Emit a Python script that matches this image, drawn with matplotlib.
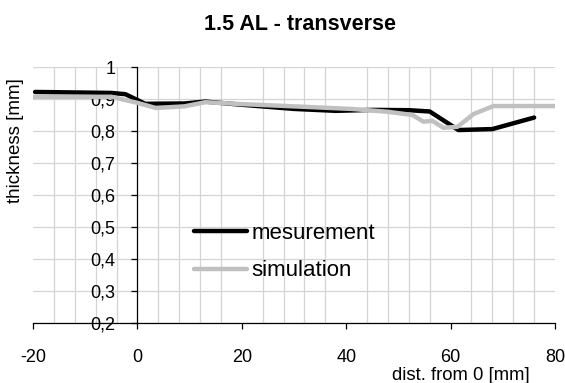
import matplotlib
matplotlib.use("Agg")
import matplotlib.pyplot as plt
from matplotlib.ticker import MultipleLocator, FuncFormatter

# measured thickness profile across the part
meas_x = [-19.6, -5, -2.3, 1.5, 9, 13, 20, 30, 38, 45, 52, 56, 61.5, 68, 76]
meas_y = [0.922, 0.919, 0.915, 0.885, 0.886, 0.892, 0.882, 0.869, 0.863, 0.866, 0.865, 0.861, 0.803, 0.806, 0.842]

# simulated thickness profile
sim_x = [-20, -5, 0, 3.5, 9, 13, 20, 30, 41, 48, 52.7, 54.8, 56.5, 58.6, 61.3, 64.4, 68.2, 80]
sim_y = [0.907, 0.907, 0.888, 0.872, 0.877, 0.890, 0.884, 0.877, 0.869, 0.860, 0.850, 0.829, 0.832, 0.810, 0.813, 0.853, 0.878, 0.878]

plt.rcParams["font.family"] = ["Liberation Sans", "DejaVu Sans"]
plt.rcParams["axes.unicode_minus"] = False

fig = plt.figure(figsize=(5.65, 3.83), dpi=100)
ax = fig.add_axes([33 / 565, 60 / 383, 522 / 565, 256 / 383])

l1, = ax.plot(meas_x, meas_y, color="black", lw=3.2, solid_capstyle="round",
              solid_joinstyle="round", label="mesurement", zorder=3)
l2, = ax.plot(sim_x, sim_y, color="#c0c0c0", lw=3.2, solid_capstyle="round",
              solid_joinstyle="round", label="simulation", zorder=4)

ax.set_xlim(-20, 80)
ax.set_ylim(0.2, 1.0)

ax.xaxis.set_major_locator(MultipleLocator(20))
ax.xaxis.set_minor_locator(MultipleLocator(4))
ax.yaxis.set_major_locator(MultipleLocator(0.1))


def comma_fmt(v, pos):
    return ("%g" % round(v, 2)).replace(".", ",")


ax.yaxis.set_major_formatter(FuncFormatter(comma_fmt))

ax.grid(True, which="minor", axis="x", color="#d4d4d4", lw=0.9)
ax.grid(True, which="major", axis="y", color="#d4d4d4", lw=0.9)
ax.set_axisbelow(True)

for s in ("top", "right"):
    ax.spines[s].set_visible(False)
ax.spines["left"].set_position(("data", 0))
ax.spines["left"].set_linewidth(0.9)
ax.spines["bottom"].set_linewidth(0.9)

ax.tick_params(axis="x", which="major", direction="out", length=4, width=0.9,
               pad=15, labelsize=13)
ax.tick_params(axis="x", which="minor", length=0)
ax.tick_params(axis="y", direction="out", length=4, width=0.9, pad=12, labelsize=13)

fig.text(300 / 565, 1 - 25 / 383, "1.5 AL - transverse", ha="center", va="center",
         fontsize=15.5, fontweight="bold")
fig.text(16 / 565, 1 - 140.5 / 383, "thickness [mm]", rotation=90, ha="center",
         va="center", fontsize=13.5)
fig.text(461 / 565, 1 - 375 / 383, "dist. from 0 [mm]", ha="center", va="center",
         fontsize=13.3)

ax.legend(handles=[l1, l2], loc="center left", bbox_to_anchor=(194 / 565, 1 - 252 / 383),
          bbox_transform=fig.transFigure, frameon=False, fontsize=16,
          handlelength=2.4, handletextpad=0.2, labelspacing=0.75,
          borderpad=0, borderaxespad=0)

fig.savefig("out.png", dpi=100)
